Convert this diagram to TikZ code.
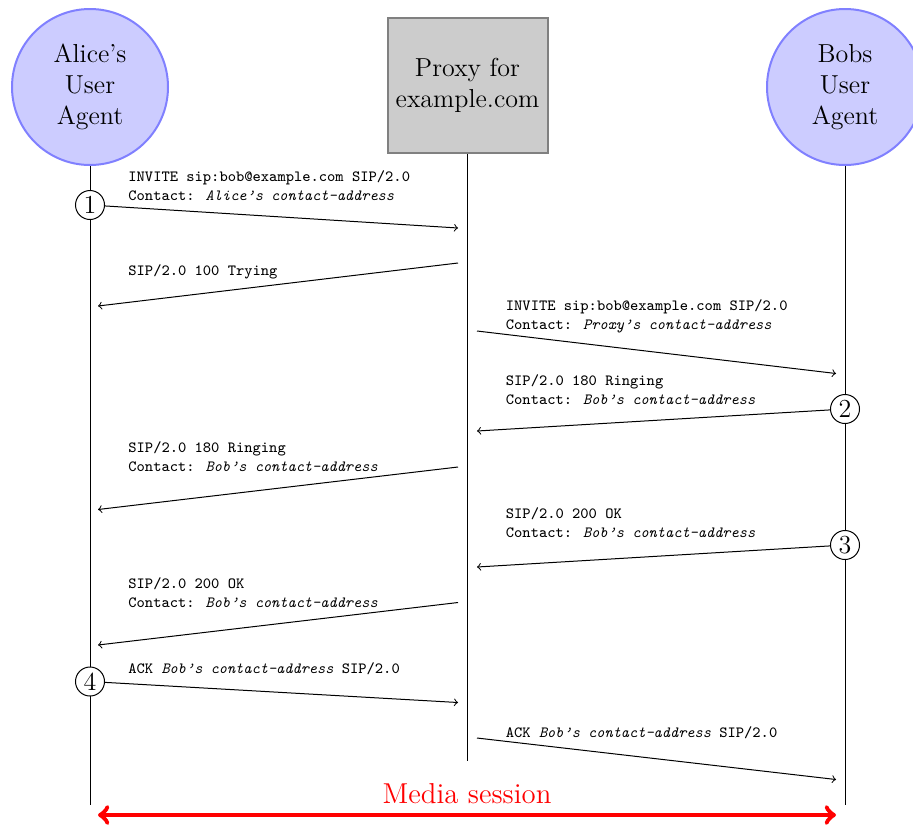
\documentclass[tikz,border=0pt]{standalone}
\begin{document}
\begin{tikzpicture}[x=0.5pt,y=-0.5pt,
  agent/.style={circle, draw=blue!50, fill=blue!20, line width=1pt,
    minimum size=78pt, inner sep=0pt, align=center,
    font=\fontsize{13}{15.5}\selectfont},
  proxybox/.style={rectangle, draw=gray, fill=gray!40, line width=1pt,
    minimum width=80pt, minimum height=67.5pt, inner sep=0pt, align=center,
    font=\fontsize{13}{15.3}\selectfont},
  lifeline/.style={line width=0.5pt},
  stepnum/.style={circle, draw, fill=white, line width=0.5pt, inner sep=0pt,
    minimum size=14.5pt, font=\fontsize{13}{15}\selectfont},
  msg/.style={->, line width=0.5pt},
  msglabel/.style={anchor=base west, inner sep=0pt, align=left,
    font=\fontsize{7.8}{9.4}\selectfont\ttfamily},
  media/.style={<->, draw=red, line width=2.4pt},
]
\useasboundingbox (0,0) rectangle (913,825);
\clip (0,0) rectangle (913,825);

% participants
\node[agent] (alice) at (90,87) {Alice’s\\User\\Agent};
\node[proxybox] (proxy) at (467.5,85.5) {Proxy for\\example.com};
\node[agent] (bob) at (845,87) {Bobs\\User\\Agent};

% lifelines
\coordinate (aliceEnd) at (90,805);
\coordinate (proxyEnd) at (467.5,761);
\coordinate (bobEnd) at (845,805);
\draw[lifeline] (alice) -- (aliceEnd);
\draw[lifeline] (proxy) -- (proxyEnd);
\draw[lifeline] (bob) -- (bobEnd);

% numbered steps
\node[stepnum] (s1) at (90,205) {1};
\node[stepnum] (s2) at (845,409) {2};
\node[stepnum] (s3) at (845,545) {3};
\node[stepnum] (s4) at (90,681.5) {4};

% arrow end points
\coordinate (m1b) at (458,228);
\coordinate (m2a) at (458,263); \coordinate (m2b) at (98,306);
\coordinate (m3a) at (477,331); \coordinate (m3b) at (836,373.5);
\coordinate (m4b) at (477,431);
\coordinate (m5a) at (458,467); \coordinate (m5b) at (98,509.5);
\coordinate (m6b) at (477,567);
\coordinate (m7a) at (458,602.5); \coordinate (m7b) at (98,645);
\coordinate (m8b) at (458,702.5);
\coordinate (m9a) at (477,738); \coordinate (m9b) at (836,779.5);

% messages
\draw[msg] (s1) -- (m1b);
\draw[msg] (m2a) -- (m2b);
\draw[msg] (m3a) -- (m3b);
\draw[msg] (s2) -- (m4b);
\draw[msg] (m5a) -- (m5b);
\draw[msg] (s3) -- (m6b);
\draw[msg] (m7a) -- (m7b);
\draw[msg] (s4) -- (m8b);
\draw[msg] (m9a) -- (m9b);

% message texts (base anchor sits on the last line)
\node[msglabel] (l1) at (128,200) {INVITE sip:bob@example.com SIP/2.0\\Contact: \textit{Alice’s contact-address}};
\node[msglabel] (l2) at (128,275) {SIP/2.0 100 Trying};
\node[msglabel] (l3) at (505.5,329.3) {INVITE sip:bob@example.com SIP/2.0\\Contact: \textit{Proxy’s contact-address}};
\node[msglabel] (l4) at (505.5,404) {SIP/2.0 180 Ringing\\Contact: \textit{Bob’s contact-address}};
\node[msglabel] (l5) at (128,471.7) {SIP/2.0 180 Ringing\\Contact: \textit{Bob’s contact-address}};
\node[msglabel] (l6) at (505.5,537.3) {SIP/2.0 200 OK\\Contact: \textit{Bob’s contact-address}};
\node[msglabel] (l7) at (128,607.5) {SIP/2.0 200 OK\\Contact: \textit{Bob’s contact-address}};
\node[msglabel] (l8) at (128,673.3) {ACK \textit{Bob’s contact-address} SIP/2.0};
\node[msglabel] (l9) at (505.5,737.3) {ACK \textit{Bob’s contact-address} SIP/2.0};

% media session
\node[anchor=base, inner sep=0pt, text=red, font=\fontsize{14.4}{17}\selectfont] (mediaText) at (467,803) {Media session};
\coordinate (mediaL) at (98,815);
\coordinate (mediaR) at (836,815);
\draw[media] (mediaL) -- (mediaR);
\end{tikzpicture}
\end{document}
